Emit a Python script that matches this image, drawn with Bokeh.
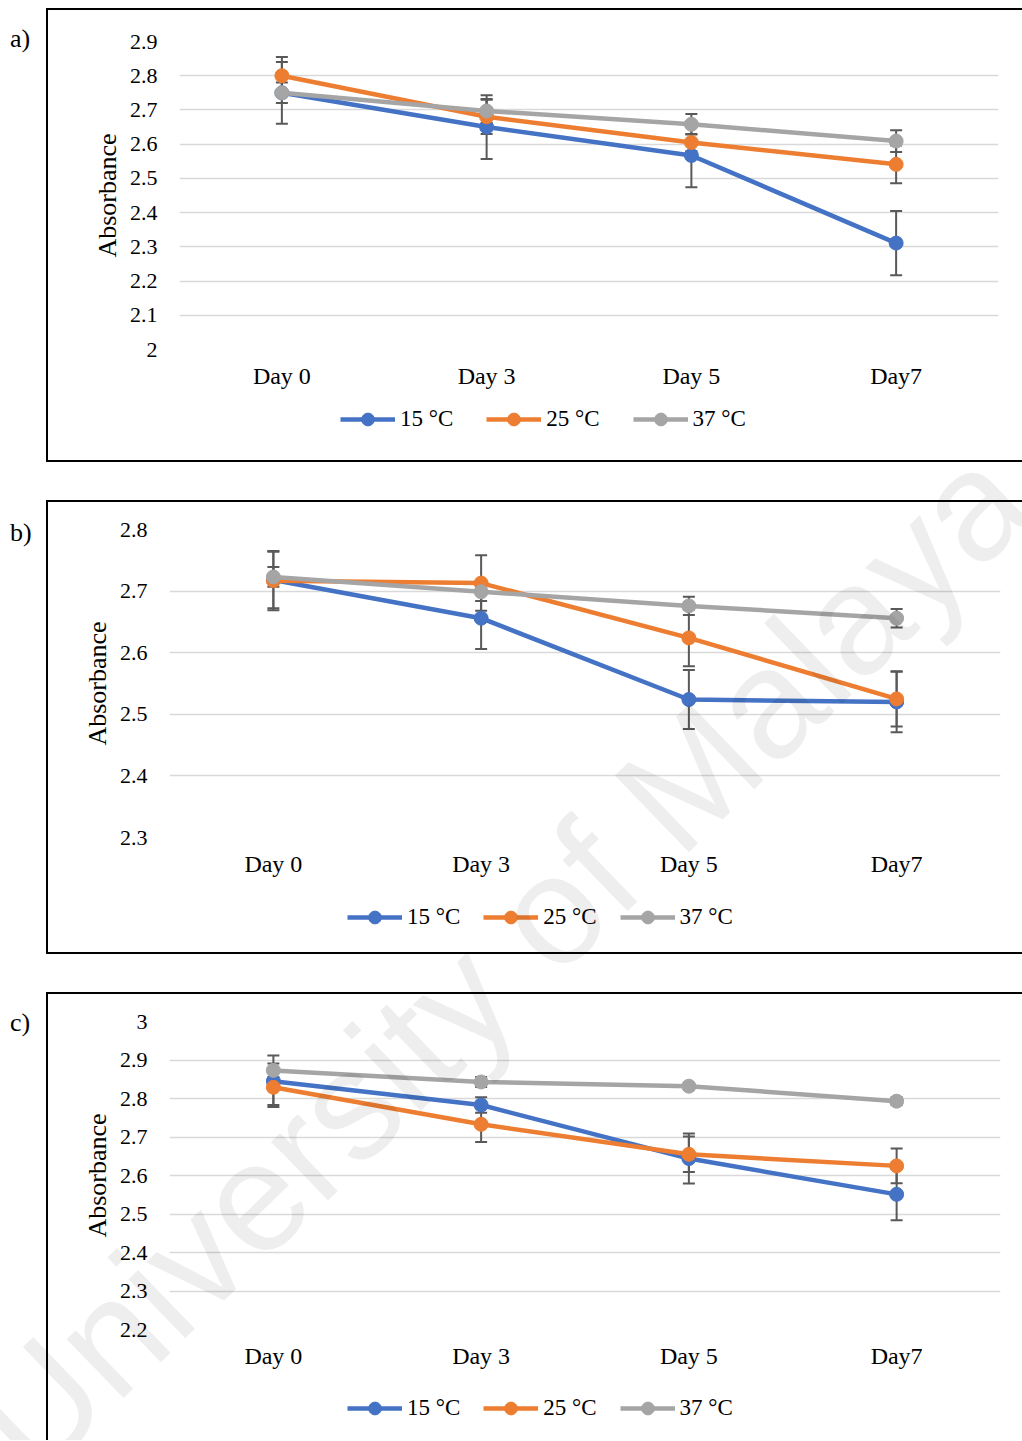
from bokeh.plotting import figure
from bokeh.models import (FactorRange, Range1d, FixedTicker, Legend, LegendItem,
                          Whisker, TeeHead, ColumnDataSource, Div, InlineStyleSheet)
from bokeh.layouts import column, row
from bokeh.embed import file_html
from bokeh.resources import INLINE

# ---------------- data ----------------
days = ["Day 0", "Day 3", "Day 5", "Day7"]
series_names = ["15 °C", "25 °C", "37 °C"]
colors = ["#4472C4", "#ED7D31", "#A5A5A5"]

# panel a
a_15 = [2.750, 2.650, 2.567, 2.311]
a_25 = [2.800, 2.680, 2.605, 2.541]
a_37 = [2.750, 2.697, 2.658, 2.609]
a_15_err = [0.090, 0.093, 0.093, 0.094]
a_25_err = [0.055, 0.050, 0.025, 0.055]
a_37_err = [0.030, 0.035, 0.030, 0.032]
a_yticks = [2.0, 2.1, 2.2, 2.3, 2.4, 2.5, 2.6, 2.7, 2.8, 2.9]
a_ylabels = ["2", "2.1", "2.2", "2.3", "2.4", "2.5", "2.6", "2.7", "2.8", "2.9"]

# panel b
b_15 = [2.718, 2.656, 2.524, 2.520]
b_25 = [2.717, 2.713, 2.624, 2.525]
b_37 = [2.723, 2.699, 2.676, 2.656]
b_15_err = [0.046, 0.050, 0.048, 0.049]
b_25_err = [0.048, 0.045, 0.046, 0.045]
b_37_err = [0.016, 0.015, 0.015, 0.015]
b_yticks = [2.3, 2.4, 2.5, 2.6, 2.7, 2.8]
b_ylabels = ["2.3", "2.4", "2.5", "2.6", "2.7", "2.8"]

# panel c
c_15 = [2.845, 2.783, 2.644, 2.551]
c_25 = [2.829, 2.733, 2.655, 2.625]
c_37 = [2.873, 2.843, 2.832, 2.793]
c_15_err = [0.067, 0.020, 0.065, 0.067]
c_25_err = [0.046, 0.046, 0.046, 0.045]
c_37_err = [0.018, 0.013, 0.008, 0.010]
c_yticks = [2.2, 2.3, 2.4, 2.5, 2.6, 2.7, 2.8, 2.9, 3.0]
c_ylabels = ["2.2", "2.3", "2.4", "2.5", "2.6", "2.7", "2.8", "2.9", "3"]

watermark = "University of Malaya"

FONT = "Liberation Serif"
FRAME_H = 308
TAG_W = 46
FIG_W = 1022 - TAG_W


def box_css(top, h, bottom=True):
    bb = "2px solid black" if bottom else "none"
    return (":host{position:relative;}"
            ":host::after{content:'';position:absolute;left:0px;top:%dpx;width:%dpx;"
            "height:%dpx;box-sizing:border-box;border-left:2px solid black;"
            "border-top:2px solid black;border-bottom:%s;pointer-events:none;z-index:5;}"
            % (top, FIG_W, h, bb))


def add_series(p, vals):
    out = []
    for v, col in zip(vals, colors):
        src = ColumnDataSource(dict(x=days, y=v))
        lr = p.line("x", "y", source=src, line_color=col, line_width=4.5)
        sr = p.scatter("x", "y", source=src, size=14, fill_color=col, line_color=col)
        out.append((lr, sr))
    return out


def make_panel(tag, vals, errs, yticks, ylabels, h_chart, h_leg, border_left,
               border_right, border_top, leg_x, leg_y, leg_spacing, box_top, box_h,
               box_bottom, tag_top):
    # ---- chart figure ----
    p = figure(width=FIG_W, height=h_chart, x_range=FactorRange(factors=days),
               y_range=Range1d(yticks[0], yticks[-1]),
               output_backend="svg", toolbar_location=None, tools="")
    p.min_border_left = border_left
    p.min_border_right = border_right
    p.min_border_top = border_top
    p.min_border_bottom = h_chart - border_top - FRAME_H
    p.outline_line_color = None
    p.background_fill_color = "white"
    p.border_fill_color = "white"
    p.title.visible = False

    p.xgrid.grid_line_color = None
    p.ygrid.grid_line_color = "#D9D9D9"
    p.ygrid.grid_line_width = 1.5

    p.yaxis.ticker = FixedTicker(ticks=yticks)
    p.yaxis.major_label_overrides = {t: l for t, l in zip(yticks, ylabels)}
    for ax in (p.xaxis, p.yaxis):
        ax.axis_line_color = None
        ax.major_tick_line_color = None
        ax.minor_tick_line_color = None
        ax.major_tick_out = 0
        ax.major_tick_in = 0
        ax.major_label_text_font = FONT
        ax.major_label_text_color = "black"
    p.yaxis.major_label_text_font_size = "22px"
    p.yaxis.major_label_standoff = 22
    p.yaxis.axis_label = "Absorbance"
    p.yaxis.axis_label_text_font = FONT
    p.yaxis.axis_label_text_font_size = "26px"
    p.yaxis.axis_label_text_font_style = "normal"
    p.yaxis.axis_label_text_color = "black"
    p.yaxis.axis_label_standoff = 5
    p.xaxis.major_label_text_font_size = "24px"
    p.xaxis.major_label_standoff = 13

    for v, e in zip(vals, errs):
        src = ColumnDataSource(dict(x=days, upper=[a + b for a, b in zip(v, e)],
                                    lower=[a - b for a, b in zip(v, e)]))
        w = Whisker(source=src, base="x", upper="upper", lower="lower",
                    dimension="height", line_color="#595959", line_width=2,
                    upper_head=TeeHead(size=12, line_color="#595959", line_width=2),
                    lower_head=TeeHead(size=12, line_color="#595959", line_width=2))
        p.add_layout(w)
    add_series(p, vals)

    # ---- legend strip (same series; its y range keeps the marks out of view) ----
    lf = figure(width=FIG_W, height=h_leg, x_range=FactorRange(factors=days),
                y_range=Range1d(100, 101), output_backend="svg",
                toolbar_location=None, tools="")
    lf.min_border_left = lf.min_border_right = 0
    lf.min_border_top = lf.min_border_bottom = 0
    lf.axis.visible = False
    lf.grid.visible = False
    lf.outline_line_color = None
    lf.title.visible = False
    rs = add_series(lf, vals)
    items = [LegendItem(label=n, renderers=[lr, sr]) for n, (lr, sr) in zip(series_names, rs)]
    leg = Legend(items=items, orientation="horizontal", location=(leg_x, leg_y),
                 glyph_width=55, glyph_height=32, label_standoff=5, spacing=leg_spacing,
                 padding=0, margin=0, border_line_color=None, background_fill_alpha=0,
                 label_text_font=FONT, label_text_font_size="23px",
                 label_text_color="black")
    lf.add_layout(leg)

    chart = column(p, lf, spacing=0,
                   stylesheets=[InlineStyleSheet(css=box_css(box_top, box_h, box_bottom))])

    tag_div = Div(text=("<div style=\"font-family:'Liberation Serif';font-size:26px;"
                        "line-height:30px;padding-left:10px;padding-top:%dpx;color:black;\">"
                        "%s</div>" % (tag_top, tag)),
                  width=TAG_W, height=h_chart + h_leg, margin=0)
    return row(tag_div, chart, spacing=0)


pa = make_panel("a)", [a_15, a_25, a_37], [a_15_err, a_25_err, a_37_err],
                a_yticks, a_ylabels, 399, 101, 133, 24, 41, 161, 65, 33,
                8, 454, True, 24)
pb = make_panel("b)", [b_15, b_25, b_37], [b_15_err, b_25_err, b_37_err],
                b_yticks, b_ylabels, 387, 105, 123, 22, 29, 178, 59, 23,
                0, 454, True, 18)
pc = make_panel("c)", [c_15, c_25, c_37], [c_15_err, c_25_err, c_37_err],
                c_yticks, c_ylabels, 387, 61, 123, 22, 29, 178, 16, 23,
                0, 448, False, 16)

wm_css = (":host{position:relative;overflow:hidden;}"
          ":host::before{content:'%s';position:absolute;left:500px;top:960px;"
          "transform:translate(-50%%,-50%%) rotate(-44deg);font-family:'Liberation Sans';"
          "font-size:155px;line-height:1;color:rgba(0,0,0,0.065);white-space:nowrap;"
          "pointer-events:none;z-index:20;}" % watermark)

layout = column(pa, pb, pc, spacing=0, stylesheets=[InlineStyleSheet(css=wm_css)])
open("out.html", "w").write(file_html(layout, INLINE))
